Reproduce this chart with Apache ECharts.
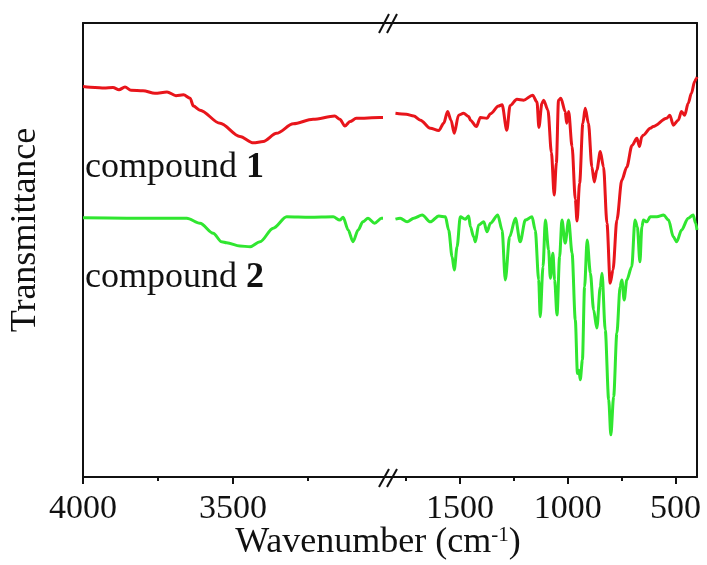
<!DOCTYPE html>
<html>
<head>
<meta charset="utf-8">
<script src="https://cdn.jsdelivr.net/npm/echarts@6/dist/echarts.min.js"></script>
<style>
  html, body { margin: 0; padding: 0; background: #fff; }
  #chart { width: 707px; height: 565px; }
</style>
</head>
<body>
<div id="chart"></div>
<script>
// IR spectra, transmittance (a.u.) vs wavenumber (cm-1), broken axis 4000-3000 | 1800-400

// compound 1, high-wavenumber window
const c1High = [
  [4000, 86.0], [3960, 85.8], [3930, 85.7], [3900, 85.8], [3880, 85.3], [3860, 85.9],
  [3840, 85.2], [3800, 85.1], [3760, 84.5], [3720, 84.8], [3690, 84.0], [3665, 84.2],
  [3643, 83.4], [3632, 81.7], [3610, 80.8], [3543, 77.9], [3477, 75.0], [3432, 73.6],
  [3399, 73.9], [3355, 75.7], [3299, 77.8], [3233, 78.8], [3161, 79.5], [3144, 78.8],
  [3127, 77.3], [3110, 78.3], [3089, 79.0], [3011, 79.2], [3000, 79.2]
];

// compound 1, fingerprint window
const c1Low = [
  [1800, 80.1], [1750, 79.9], [1715, 79.5], [1684, 78.6], [1638, 76.8], [1599, 76.3],
  [1576, 77.9], [1558, 80.5], [1542, 78.6], [1527, 75.7], [1507, 79.7], [1484, 80.1],
  [1460, 79.4], [1452, 78.6], [1424, 77.2], [1406, 79.2], [1375, 79.0], [1359, 80.0],
  [1321, 81.7], [1305, 82.0], [1283, 76.4], [1268, 81.8], [1236, 83.2], [1205, 83.0],
  [1163, 84.1], [1143, 82.6], [1134, 77.0], [1120, 82.3], [1112, 83.0], [1092, 80.8],
  [1076, 71.5], [1063, 62.1], [1053, 69.1], [1043, 83.0], [1032, 83.4], [1012, 80.5],
  [1005, 77.9], [996, 80.5], [980, 72.8], [965, 61.2], [957, 56.4], [945, 64.7],
  [930, 77.9], [919, 81.2], [904, 77.9], [888, 68.3], [877, 65.0], [865, 67.6],
  [849, 71.7], [834, 68.3], [818, 55.9], [803, 42.7], [790, 45.6], [772, 56.6],
  [749, 65.4], [726, 68.3], [702, 73.0], [679, 74.6], [667, 72.8], [656, 75.0],
  [649, 75.3], [617, 76.8], [603, 77.2], [541, 79.0], [526, 79.7], [510, 77.5],
  [487, 78.6], [472, 80.5], [457, 79.7], [441, 82.3], [426, 84.5], [411, 87.1],
  [403, 87.8], [400, 88.1]
];

// compound 2, high-wavenumber window
const c2High = [
  [4000, 57.1], [3854, 57.0], [3654, 57.0], [3610, 55.9], [3566, 53.7], [3538, 51.8],
  [3521, 51.6], [3477, 50.9], [3443, 50.7], [3410, 51.8], [3366, 54.8], [3321, 57.3],
  [3244, 57.2], [3166, 57.3], [3144, 56.6], [3133, 57.2], [3116, 54.4], [3100, 51.8],
  [3083, 54.4], [3067, 56.2], [3050, 57.0], [3028, 55.9], [3005, 57.0], [3000, 57.0]
];

// compound 2, fingerprint window
const c2Low = [
  [1800, 56.8], [1778, 57.0], [1746, 56.2], [1715, 57.0], [1676, 57.7], [1638, 56.2],
  [1599, 57.5], [1568, 57.3], [1553, 54.4], [1537, 48.5], [1527, 45.6], [1514, 50.7],
  [1499, 57.3], [1476, 56.8], [1460, 57.5], [1452, 55.1], [1437, 52.9], [1429, 51.8],
  [1414, 55.5], [1390, 56.2], [1375, 54.0], [1359, 55.9], [1325, 57.7], [1305, 54.4],
  [1290, 43.4], [1270, 52.9], [1243, 57.0], [1221, 51.8], [1197, 56.6], [1166, 57.3],
  [1151, 54.4], [1135, 43.4], [1128, 35.3], [1115, 46.3], [1104, 56.6], [1089, 50.0],
  [1081, 43.8], [1069, 49.3], [1061, 43.4], [1050, 35.7], [1038, 48.5], [1027, 56.6],
  [1012, 51.5], [996, 56.6], [980, 49.3], [965, 34.6], [955, 22.8], [948, 23.5],
  [942, 21.4], [932, 25.8], [922, 41.9], [910, 52.2], [895, 44.9], [880, 36.8],
  [865, 32.8], [849, 41.9], [841, 44.9], [826, 32.4], [810, 17.0], [800, 9.3],
  [787, 17.7], [772, 31.7], [757, 41.9], [749, 43.4], [738, 39.0], [726, 43.4],
  [703, 46.3], [688, 56.6], [677, 55.1], [665, 47.4], [656, 55.1], [649, 56.6],
  [633, 56.2], [617, 57.3], [586, 57.3], [555, 57.7], [532, 56.6], [510, 52.9],
  [494, 51.8], [472, 54.4], [441, 57.0], [418, 57.7], [406, 55.9], [400, 54.4]
];

// axis ranges and ticks of the two windows
const highRange = [2980, 4000];
const lowRange = [400, 1830];
const highMajor = [4000, 3500];
const highMinor = [3750, 3250];
const lowMajor = [1500, 1000, 500];
const lowMinor = [1750, 1250, 750];

const RED = '#e8151b';
const GREEN = '#30e630';
const INK = '#111';
const FONT = '"Liberation Serif", "Times New Roman", serif';

const chart = echarts.init(document.getElementById('chart'), null, { renderer: 'canvas' });

function majorAxis(grid, range, values) {
  return {
    type: 'value', gridIndex: grid, position: 'bottom', inverse: true,
    min: range[0], max: range[1],
    axisLine: { show: true, onZero: false, lineStyle: { color: INK, width: 2 } },
    axisTick: { show: true, customValues: values, length: 7, lineStyle: { color: INK, width: 2 } },
    axisLabel: {
      show: true, customValues: values, margin: 15, color: INK, fontSize: 34, fontFamily: FONT,
      formatter: function (v) { return String(v); }
    },
    splitLine: { show: false }
  };
}
function minorAxis(grid, range, values) {
  return {
    type: 'value', gridIndex: grid, position: 'bottom', inverse: true,
    min: range[0], max: range[1],
    axisLine: { show: false, onZero: false },
    axisTick: { show: true, customValues: values, length: 4, lineStyle: { color: INK, width: 2 } },
    axisLabel: { show: false },
    splitLine: { show: false }
  };
}
function topAxis(grid, range) {
  return {
    type: 'value', gridIndex: grid, position: 'top', inverse: true,
    min: range[0], max: range[1],
    axisLine: { show: true, onZero: false, lineStyle: { color: INK, width: 2 } },
    axisTick: { show: false }, axisLabel: { show: false }, splitLine: { show: false }
  };
}
function sideAxis(grid, pos) {
  return {
    type: 'value', gridIndex: grid, position: pos, min: 0, max: 100,
    axisLine: { show: true, onZero: false, lineStyle: { color: INK, width: 2 } },
    axisTick: { show: false }, axisLabel: { show: false }, splitLine: { show: false }
  };
}
function spectrum(data, xi, yi, color) {
  return {
    type: 'line', data: data, xAxisIndex: xi, yAxisIndex: yi,
    showSymbol: false, smooth: 0.3, smoothMonotone: 'x',
    lineStyle: { color: color, width: 3 }, itemStyle: { color: color },
    animation: false, silent: true, z: 3
  };
}

// "//" break marks on the frame
const breakLines = [];
[[33, 14], [487, 469]].forEach(function (yy) {
  [0, 8].forEach(function (dx) {
    breakLines.push({
      type: 'line', z: 10,
      shape: { x1: 379 + dx, y1: yy[0], x2: 389 + dx, y2: yy[1] },
      style: { stroke: INK, lineWidth: 2 }
    });
  });
});

const bold = { fontWeight: 'bold', fontSize: 36, fontFamily: FONT, fill: INK };

chart.setOption({
  backgroundColor: '#fff',
  animation: false,
  grid: [
    { left: 83, top: 23, width: 306, height: 454 },
    { left: 389, top: 23, width: 308, height: 454 }
  ],
  xAxis: [
    majorAxis(0, highRange, highMajor),
    minorAxis(0, highRange, highMinor),
    topAxis(0, highRange),
    majorAxis(1, lowRange, lowMajor),
    minorAxis(1, lowRange, lowMinor),
    topAxis(1, lowRange)
  ],
  yAxis: [sideAxis(0, 'left'), sideAxis(1, 'right')],
  series: [
    spectrum(c1High, 0, 0, RED),
    spectrum(c1Low, 3, 1, RED),
    spectrum(c2High, 0, 0, GREEN),
    spectrum(c2Low, 3, 1, GREEN)
  ],
  graphic: breakLines.concat([
    {
      type: 'text', left: 85, top: 150, z: 10,
      style: { text: 'compound {b|1}', fill: INK, font: '36px ' + FONT, rich: { b: bold } }
    },
    {
      type: 'text', left: 85, top: 260, z: 10,
      style: { text: 'compound {b|2}', fill: INK, font: '36px ' + FONT, rich: { b: bold } }
    },
    {
      type: 'text', x: 26, y: 230, rotation: Math.PI / 2, z: 10,
      style: { text: 'Transmittance', fill: INK, font: '36px ' + FONT, align: 'center', verticalAlign: 'middle' }
    },
    {
      type: 'text', x: 378, y: 543, z: 10,
      style: {
        text: 'Wavenumber (cm{s|-1})', fill: INK, font: '36px ' + FONT,
        align: 'center', verticalAlign: 'middle',
        rich: { s: { fontSize: 21, fontFamily: FONT, fill: INK, verticalAlign: 'top', lineHeight: 36 } }
      }
    }
  ])
});
</script>
</body>
</html>
